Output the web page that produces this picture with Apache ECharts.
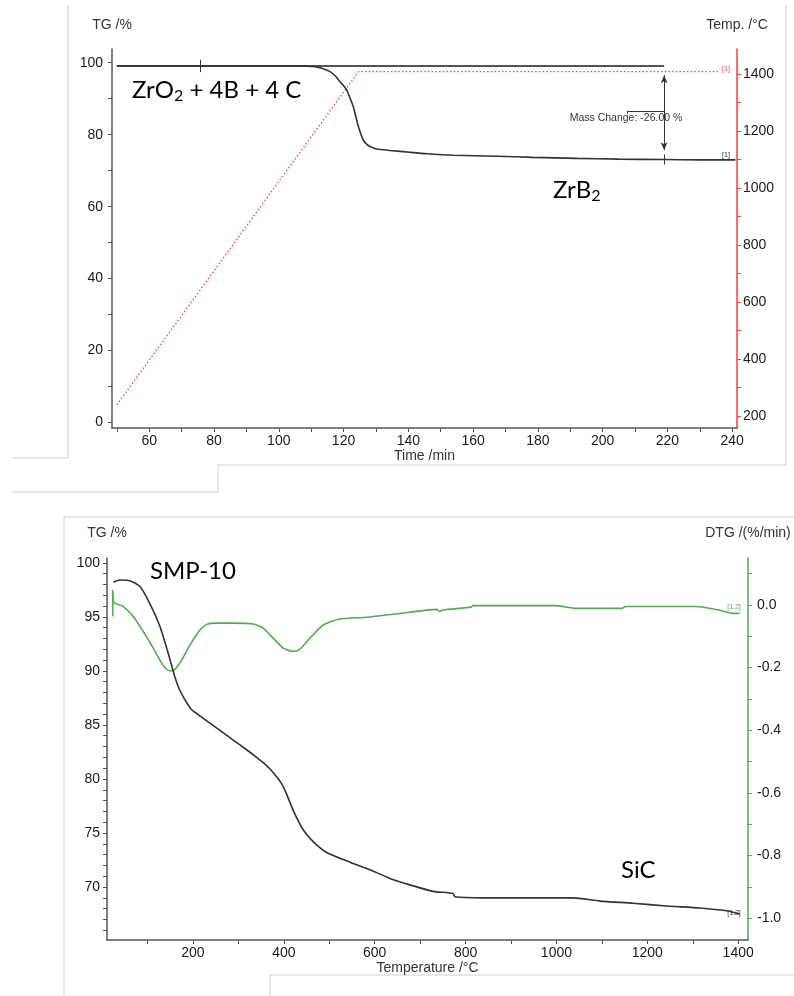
<!DOCTYPE html>
<html>
<head>
<meta charset="utf-8">
<script src="https://cdn.jsdelivr.net/npm/echarts@6/dist/echarts.min.js"></script>
<style>
  html, body { margin: 0; padding: 0; background: #fff; }
  #chart { width: 794px; height: 996px; }
</style>
</head>
<body>
<div id="chart"></div>
<script>
// ---------- Panel 1: ZrO2 + 4B + 4C -> ZrB2 (TG vs. time, furnace temperature) ----------
const zrTime = [50, 60, 80, 100, 106.6, 109, 111.2, 113.5, 115.8, 117.5, 118.9, 120, 121.0, 122, 123.0,
  124.6, 126.1, 127.2, 128.2, 130.2, 134.4, 140.5, 145.8, 153.8, 167.4, 178.5, 192.1, 205, 219, 230, 241];
const zrTG = [99.1, 99.1, 99.1, 99.1, 99.1, 99.05, 98.9, 98.4, 97.5, 96.3, 94.7, 93.6, 92.4, 90.2, 87.8,
  82.2, 78.5, 77.3, 76.7, 76.0, 75.6, 75.1, 74.7, 74.3, 74.0, 73.7, 73.4, 73.2, 73.1, 73.0, 73.0];

const furnaceTime = [50, 124.6, 235.6];
const furnaceTemp = [239, 1408, 1408];

// mass-change evaluation: reference level marker and end marker (min)
const stepStartTime = 75.7;
const stepEndTime = 219;

const timeTicks = [50, 60, 70, 80, 90, 100, 110, 120, 130, 140, 150, 160, 170, 180, 190, 200, 210, 220, 230, 240];
const timeLabels = [60, 80, 100, 120, 140, 160, 180, 200, 220, 240];
const tgTopTicks = [0, 10, 20, 30, 40, 50, 60, 70, 80, 90, 100];
const tgTopLabels = [0, 20, 40, 60, 80, 100];
const tempTicks = [200, 300, 400, 500, 600, 700, 800, 900, 1000, 1100, 1200, 1300, 1400];
const tempLabels = [200, 400, 600, 800, 1000, 1200, 1400];

// ---------- Panel 2: SMP-10 -> SiC (TG and DTG vs. temperature) ----------
const smpTemp = [24.7, 39.4, 61.4, 83.4, 105.4, 127.4, 145.7, 160.4, 170, 178.7, 187, 197.1, 210, 222.7, 259.4,
  288.6, 318.1, 340, 354.6, 370, 384.1, 396, 406.1, 420.6, 442.6, 464.6, 494.1, 545.4, 589.4, 633.4, 677.4,
  728.6, 772.6, 776.3, 838.6, 985.3, 1036.6, 1095.3, 1168.6, 1242, 1315.3, 1374, 1403.3];
const smpTG = [98.2, 98.4, 98.33, 97.8, 96.2, 94.1, 91.6, 89.4, 88.3, 87.6, 87.0, 86.4, 86.0, 85.6, 84.5,
  83.6, 82.7, 82.0, 81.5, 80.9, 80.2, 79.5, 78.6, 77.1, 75.3, 74.2, 73.2, 72.3, 71.6, 70.8, 70.2,
  69.6, 69.4, 69.1, 69.0, 69.0, 69.0, 68.7, 68.5, 68.24, 68.06, 67.8, 67.5];

const dtgTemp = [24.7, 28.4, 46.7, 68.7, 90.7, 112.7, 131.2, 140, 148, 156.7, 165, 175.2, 193.4, 215.4,
  230.2, 250, 288.6, 332.6, 354.6, 376.6, 398.6, 410, 420, 430, 440, 457.4, 486.6, 523.4, 582.1, 655.4,
  736.1, 743.4, 750, 812.5, 816, 998.3, 1042.3, 1144.8, 1152.3, 1306.2, 1357.5, 1386.7, 1403.3];
const dtgValue = [0.011, 0.005, -0.005, -0.037, -0.085, -0.138, -0.186, -0.203, -0.210, -0.209, -0.198, -0.176, -0.128, -0.080,
  -0.062, -0.058, -0.058, -0.061, -0.074, -0.106, -0.138, -0.145, -0.148, -0.146, -0.135, -0.106, -0.064, -0.045, -0.039, -0.027,
  -0.014, -0.021, -0.016, -0.007, -0.002, -0.002, -0.011, -0.011, -0.005, -0.005, -0.016, -0.027, -0.027];

// start-up transient of the DTG signal
const dtgStartTemp = [23.4, 23.4, 24.7];
const dtgStartValue = [-0.037, 0.048, 0.011];

const tempAxisTicks = [100, 200, 300, 400, 500, 600, 700, 800, 900, 1000, 1100, 1200, 1300, 1400];
const tempAxisLabels = [200, 400, 600, 800, 1000, 1200, 1400];
const tgBottomTicks = [66, 67, 68, 69, 70, 71, 72, 73, 74, 75, 76, 77, 78, 79, 80, 81, 82, 83, 84,
  85, 86, 87, 88, 89, 90, 91, 92, 93, 94, 95, 96, 97, 98, 99, 100];
const tgBottomLabels = [70, 75, 80, 85, 90, 95, 100];
const dtgTicks = [0.1, 0.0, -0.1, -0.2, -0.3, -0.4, -0.5, -0.6, -0.7, -0.8, -0.9, -1.0];
const dtgLabels = [0.0, -0.2, -0.4, -0.6, -0.8, -1.0];

// ---------- styling ----------
const LABEL_FONT = 'Arial, "Liberation Sans", Helvetica, sans-serif';
const NOTE_FONT = 'Lato, Calibri, "Open Sans", sans-serif';
const AXIS_GREY = '#555';
const TG_BLACK = '#333';
const TEMP_RED = '#ff3b3b';
const DTG_GREEN = '#4cae4c';
const CURVE_SMOOTH = 0.2;

const zip = (xs, ys) => xs.map((x, i) => [x, ys[i]]);

function valueAxis(c) {
  return {
    type: 'value',
    gridIndex: c.grid,
    position: c.position,
    min: c.min,
    max: c.max,
    name: c.name,
    nameLocation: c.nameLocation,
    nameGap: c.nameGap,
    nameTextStyle: { fontFamily: LABEL_FONT, fontSize: 14, color: '#333' },
    axisLine: { show: true, onZero: false, lineStyle: { color: c.color, width: 1.5 } },
    axisTick: { show: true, customValues: c.ticks, length: 4, lineStyle: { color: c.color, width: 1 } },
    axisLabel: {
      show: true, customValues: c.labels, margin: c.margin,
      fontFamily: LABEL_FONT, fontSize: 14, color: '#1a1a1a',
      formatter: c.formatter || (v => String(v))
    },
    splitLine: { show: false }
  };
}

const tgLevel = zrTG[0];
const tgAtStepEnd = zrTG[zrTime.indexOf(stepEndTime)];
const massChange = (tgAtStepEnd - tgLevel).toFixed(2);
const arrowInset = 2.6;       // gap between arrow heads and the two levels (TG %)
const leaderTG = 86.4;        // height of the label leader line (TG %)
const leaderStartTime = 207.5;

const option = {
  animation: false,
  backgroundColor: '#fff',
  grid: [
    { left: 112, right: 57, top: 49, bottom: 568 },
    { left: 107, right: 46, top: 558, bottom: 56 }
  ],
  xAxis: [
    valueAxis({
      grid: 0, position: 'bottom', min: 48.5, max: 241.5, name: 'Time /min',
      nameLocation: 'middle', nameGap: 21, color: AXIS_GREY, ticks: timeTicks, labels: timeLabels, margin: 6
    }),
    valueAxis({
      grid: 1, position: 'bottom', min: 10.8, max: 1421.6, name: 'Temperature /°C',
      nameLocation: 'middle', nameGap: 20, color: AXIS_GREY, ticks: tempAxisTicks, labels: tempAxisLabels, margin: 6
    })
  ],
  yAxis: [
    valueAxis({
      grid: 0, position: 'left', min: -1.5, max: 103.8, name: 'TG /%', nameLocation: 'end', nameGap: 17,
      color: AXIS_GREY, ticks: tgTopTicks, labels: tgTopLabels, margin: 9
    }),
    valueAxis({
      grid: 0, position: 'right', min: 157.9, max: 1487.7, name: 'Temp. /°C', nameLocation: 'end', nameGap: 17,
      color: TEMP_RED, ticks: tempTicks, labels: tempLabels, margin: 6
    }),
    valueAxis({
      grid: 1, position: 'left', min: 65.1, max: 100.44, name: 'TG /%', nameLocation: 'end', nameGap: 18,
      color: AXIS_GREY, ticks: tgBottomTicks, labels: tgBottomLabels, margin: 7
    }),
    valueAxis({
      grid: 1, position: 'right', min: -1.07, max: 0.15, name: 'DTG /(%/min)', nameLocation: 'end', nameGap: 18,
      color: DTG_GREEN, ticks: dtgTicks, labels: dtgLabels, margin: 9, formatter: v => v.toFixed(1)
    })
  ],
  series: [
    {
      name: 'Temp.', type: 'line', xAxisIndex: 0, yAxisIndex: 1,
      data: zip(furnaceTime, furnaceTemp), showSymbol: false,
      lineStyle: { color: TEMP_RED, width: 1.3, type: [1.5, 2.2] }, z: 2
    },
    {
      name: 'TG level', type: 'line', xAxisIndex: 0, yAxisIndex: 0,
      data: [[zrTime[0], tgLevel], [stepEndTime, tgLevel]], showSymbol: false,
      lineStyle: { color: '#555', width: 2 }, z: 3,
      markLine: {
        silent: true, symbol: 'none', animation: false,
        label: { show: false },
        lineStyle: { color: '#333', width: 1, type: 'solid' },
        data: [
          [{ coord: [stepStartTime, tgLevel + 1.7] }, { coord: [stepStartTime, tgLevel - 1.7] }],
          [{ coord: [stepEndTime, tgAtStepEnd + 1.4] }, { coord: [stepEndTime, tgAtStepEnd - 1.4] }],
          [{ coord: [leaderStartTime, leaderTG] }, { coord: [stepEndTime, leaderTG] }],
          [{ coord: [leaderStartTime, leaderTG] }, { coord: [leaderStartTime, leaderTG - 0.6] }]
        ]
      }
    },
    {
      name: 'Mass change', type: 'line', xAxisIndex: 0, yAxisIndex: 0, data: [], z: 4,
      markLine: {
        silent: true, animation: false,
        symbol: ['arrow', 'arrow'], symbolSize: [5, 8],
        label: { show: false },
        lineStyle: { color: '#333', width: 1, type: 'solid' },
        data: [
          [{ coord: [stepEndTime, tgLevel - arrowInset] }, { coord: [stepEndTime, tgAtStepEnd + arrowInset] }]
        ]
      }
    },
    {
      name: 'TG', type: 'line', xAxisIndex: 0, yAxisIndex: 0,
      data: zip(zrTime, zrTG), showSymbol: false, smooth: CURVE_SMOOTH,
      lineStyle: { color: TG_BLACK, width: 1.6 }, z: 5
    },
    {
      name: 'DTG', type: 'line', xAxisIndex: 1, yAxisIndex: 3,
      data: zip(dtgTemp, dtgValue), showSymbol: false, smooth: CURVE_SMOOTH,
      lineStyle: { color: DTG_GREEN, width: 1.6, join: 'round' }, z: 3
    },
    {
      name: 'DTG start', type: 'line', xAxisIndex: 1, yAxisIndex: 3,
      data: zip(dtgStartTemp, dtgStartValue), showSymbol: false,
      lineStyle: { color: DTG_GREEN, width: 1.6 }, z: 3
    },
    {
      name: 'TG SMP-10', type: 'line', xAxisIndex: 1, yAxisIndex: 2,
      data: zip(smpTemp, smpTG), showSymbol: false, smooth: CURVE_SMOOTH,
      lineStyle: { color: TG_BLACK, width: 1.6, join: 'round' }, z: 4
    }
  ],
  graphic: [
    // frame strokes around the two panels
    ...[
      [68, 5, 68, 458], [12, 458, 68, 458], [786, 5, 786, 465], [218, 465, 786, 465],
      [218, 465, 218, 492], [12, 492, 218, 492],
      [64, 517, 794, 517], [64, 517, 64, 996], [270, 975, 794, 975], [270, 975, 270, 996]
    ].map(([x1, y1, x2, y2]) => ({
      type: 'line', silent: true,
      shape: { x1, y1, x2, y2 },
      style: { stroke: '#cfcfcf', lineWidth: 1 }
    })),
    {
      type: 'text', x: 132, y: 91, silent: true,
      style: {
        text: '{a|ZrO}{s|2}{a| + 4B + 4 C}', verticalAlign: 'middle', align: 'left',
        rich: {
          a: { fontFamily: NOTE_FONT, fontSize: 24, fill: '#000', verticalAlign: 'top' },
          s: { fontFamily: NOTE_FONT, fontSize: 16, fill: '#000', verticalAlign: 'top', padding: [10, 0, 0, 0] }
        }
      }
    },
    {
      type: 'text', x: 553, y: 191, silent: true,
      style: {
        text: '{a|ZrB}{s|2}', verticalAlign: 'middle', align: 'left',
        rich: {
          a: { fontFamily: NOTE_FONT, fontSize: 24, fill: '#000', verticalAlign: 'top' },
          s: { fontFamily: NOTE_FONT, fontSize: 16, fill: '#000', verticalAlign: 'top', padding: [10, 0, 0, 0] }
        }
      }
    },
    {
      type: 'text', x: 150, y: 571, silent: true,
      style: { text: 'SMP-10', font: '24px ' + NOTE_FONT, fill: '#000', verticalAlign: 'middle', align: 'left' }
    },
    {
      type: 'text', x: 621, y: 870, silent: true,
      style: { text: 'SiC', font: '24px ' + NOTE_FONT, fill: '#000', verticalAlign: 'middle', align: 'left' }
    },
    {
      type: 'text', x: 626, y: 118, silent: true,
      style: { text: 'Mass Change: ' + massChange + ' %', font: '10.5px ' + LABEL_FONT, fill: '#333', align: 'center', verticalAlign: 'middle' }
    },
    {
      type: 'text', x: 726, y: 69, silent: true,
      style: { text: '[1]', font: '7px ' + LABEL_FONT, fill: TEMP_RED, align: 'center', verticalAlign: 'middle' }
    },
    {
      type: 'text', x: 726, y: 155, silent: true,
      style: { text: '[1]', font: '7px ' + LABEL_FONT, fill: '#333', align: 'center', verticalAlign: 'middle' }
    },
    {
      type: 'text', x: 734, y: 607, silent: true,
      style: { text: '[1.2]', font: '7px ' + LABEL_FONT, fill: DTG_GREEN, align: 'center', verticalAlign: 'middle' }
    },
    {
      type: 'text', x: 734, y: 913, silent: true,
      style: { text: '[1.2]', font: '7px ' + LABEL_FONT, fill: '#333', align: 'center', verticalAlign: 'middle' }
    }
  ]
};

const chart = echarts.init(document.getElementById('chart'), null, { renderer: 'canvas' });
chart.setOption(option);
</script>
</body>
</html>
